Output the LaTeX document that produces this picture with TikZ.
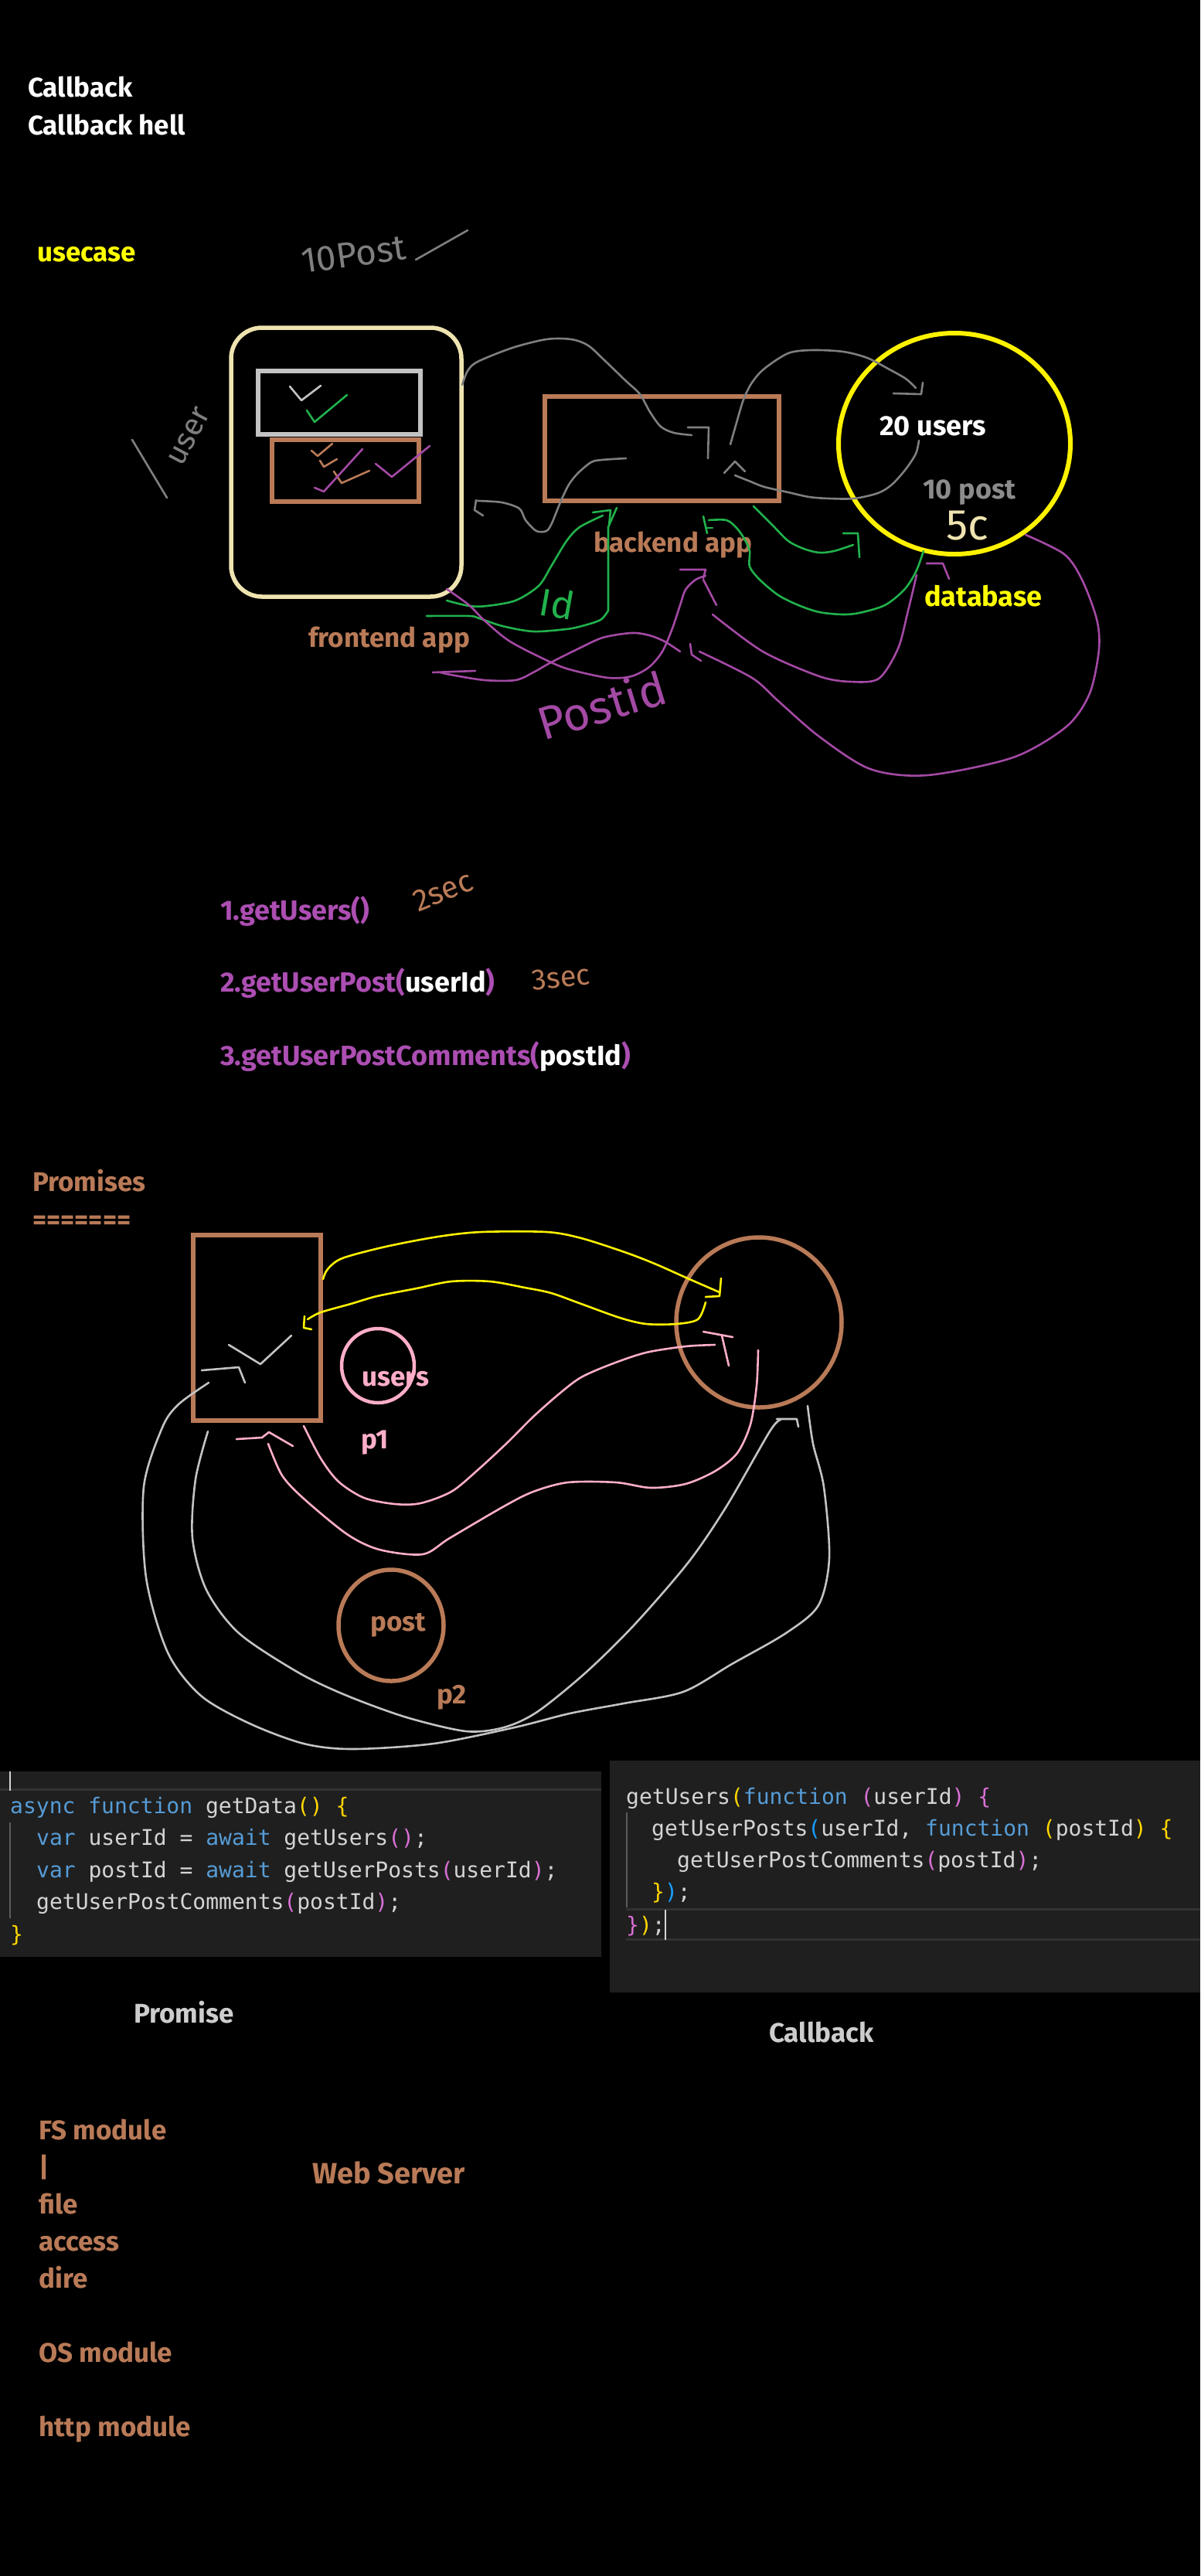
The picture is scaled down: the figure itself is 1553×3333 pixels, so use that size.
\documentclass[tikz,border=0pt]{standalone}
\usepackage{fontspec}
\setmainfont{Fira Sans}
\newfontfamily\codefnt{DejaVu Sans Mono}
\newcommand\lblfont{\fontsize{35}{42}\selectfont\bfseries}
\newcommand\handfnt[1]{\fontsize{#1}{#1}\selectfont}
\definecolor{pbrown}{RGB}{185,122,87}
\definecolor{pcream}{RGB}{239,228,176}
\definecolor{pyellow}{RGB}{255,242,0}
\definecolor{tyellow}{RGB}{255,255,0}
\definecolor{pgreen}{RGB}{34,177,76}
\definecolor{pgray}{RGB}{127,127,127}
\definecolor{plgray}{RGB}{195,195,195}
\definecolor{ppurple}{RGB}{163,73,164}
\definecolor{tpurple}{RGB}{172,78,178}
\definecolor{ppink}{RGB}{255,174,201}
\definecolor{tgray}{RGB}{140,140,140}
\definecolor{tlight}{RGB}{205,205,205}
\definecolor{codebg}{RGB}{31,31,31}
\definecolor{codefg}{RGB}{212,212,212}
\definecolor{codekw}{RGB}{86,156,214}
\definecolor{codey}{RGB}{255,215,0}
\definecolor{codep}{RGB}{218,112,214}
\definecolor{codeb}{RGB}{23,159,255}
\definecolor{hlline}{RGB}{50,50,50}
\tikzset{
  pen/.style={line width=2.6, line cap=round, line join=round},
  thick pen/.style={line width=5.5},
  lbl/.style={inner sep=0, anchor=base west, font=\lblfont},
  code/.style={inner sep=0, anchor=base west, font=\codefnt\fontsize{28}{34}\selectfont, text=codefg},
  hand/.style={inner sep=0},
}
\begin{document}
\begin{tikzpicture}[x=1pt,y=-1pt]
\fill[black] (0,0) rectangle (1553,3333);
\useasboundingbox (0,0) rectangle (1553,3333);

% ---------- headings ----------
\node[lbl, text=white] (cb) at (36,125) {Callback};
\node[lbl, text=white] (cbh) at (36,174) {Callback hell};
\node[lbl, text=tyellow] (uc) at (48,338) {usecase};
\node[hand, text=pgray, font=\handfnt{46}, rotate=8, anchor=base west] (tenpost) at (392,354) {10Post};
\draw[pen, pgray] (538,336) -- (605,298);

% ---------- use case diagram ----------
\draw[pcream, thick pen, rounded corners=40] (299,424) rectangle (597,772);
\draw[plgray, thick pen] (334,480) rectangle (544,562);
\draw[pbrown, thick pen] (352,569) rectangle (542,649);
\draw[pbrown, thick pen] (705,513) rectangle (1008,648);
\draw[pyellow, line width=6] (1235,574) ellipse [x radius=150, y radius=143];

\node[lbl, text=pbrown] (fe) at (399,837) {frontend app};
\node[lbl, text=pbrown] (be) at (768,714) {backend app};
\node[lbl, text=white, font=\fontsize{36}{40}\selectfont\bfseries] (u20) at (1138,563) {20 users};
\node[lbl, text=tgray, font=\fontsize{36}{40}\selectfont\bfseries] (p10) at (1194,645) {10 post};
\node[lbl, text=tyellow, font=\fontsize{36}{40}\selectfont\bfseries] (db) at (1196,784) {database};
\node[hand, text=pcream, font=\handfnt{56}] (fivec) at (1252,680) {5c};

% user label
\draw[pen, pgray] (171,569) -- (216,644);
\node[hand, text=pgray, font=\handfnt{40}, rotate=62] (usr) at (245,565) {user};

% checks
\draw[pen, plgray] (375,500) -- (390,518) -- (415,499);
\draw[pen, pgreen] (397,531) -- (407,546) -- (449,511);
\draw[pen, pbrown] (403,583) -- (411,590) -- (430,574);
\draw[pen, pbrown] (414,596) -- (419,604) -- (436,594);
\draw[pen, pbrown] (432,610) -- (442,625) -- (478,609);
\draw[pen, ppurple] (407,631) -- (419,636) -- (469,581);
\draw[pen, ppurple] (486,600) -- (507,617) -- (556,577);

% gray curves
\draw[pen, pgray] plot[smooth] coordinates {(598,498) (605,480) (618,468) (663,450) (707,439) (739,439) (761,447) (783,467) (810,493) (828,510) (841,533) (855,552) (872,560) (895,563)};
\draw[pen, pgray] (890,553) -- (917,553) -- (916,593);
\draw[pen, pgray] plot[smooth] coordinates {(945,575) (953,547) (962,517) (973,495) (989,477) (1020,457) (1051,453) (1091,455) (1122,463) (1149,477) (1172,490) (1185,502)};
\draw[pen, pgray] (1156,509) -- (1192,510) -- (1194,495);
\draw[pen, pgray] plot[smooth] coordinates {(1189,570) (1185,587) (1172,607) (1154,627) (1136,638) (1105,645) (1073,645) (1047,643) (1020,637) (989,630) (971,623) (951,615)};
\draw[pen, pgray] (937,612) -- (951,597) -- (964,610);
\draw[pen, pgray] plot[smooth] coordinates {(810,593) (779,595) (765,598) (748,612) (736,627) (725,650) (714,677) (707,687) (694,687) (680,673) (672,658) (649,650) (618,648)};
\draw[pen, pgray] (616,647) -- (614,660) -- (625,667);

% green curves
\draw[pen, pgreen] plot[smooth] coordinates {(578,777) (607,784) (630,784) (667,777) (697,758) (713,733) (733,700) (750,682) (780,667)};
\draw[pen, pgreen] (767,663) -- (790,660) -- (788,680);
\draw[pen, pgreen] (798,657) -- (787,682) -- (787,790);
\draw[pen, pgreen] plot[smooth] coordinates {(787,790) (777,802) (753,810) (733,814) (690,817) (650,810) (620,800) (607,797) (552,797)};
\node[hand, text=pgreen, font=\handfnt{50}, rotate=-10] (idl) at (721,781) {Id};
\draw[pen, pgreen] (910,668) -- (915,690);
\draw[pen, pgreen] (913,683) -- (922,683);
\draw[pen, pgreen] plot[smooth] coordinates {(917,673) (940,673) (953,683) (963,697) (970,713) (970,733) (983,750) (1007,770) (1033,783) (1060,792) (1090,795) (1112,793) (1145,783) (1170,763) (1185,740) (1195,713)};
\draw[pen, pgreen] plot[smooth] coordinates {(975,655) (1000,680) (1020,700) (1040,710) (1060,715) (1079,713) (1104,705)};
\draw[pen, pgreen] (1091,690) -- (1110,690) -- (1112,721);

% purple curves
\draw[pen, ppurple] plot[smooth] coordinates {(578,762) (607,783) (627,803) (660,830) (713,857) (740,867) (787,877) (817,875) (840,863) (857,843) (870,813) (880,783) (887,763) (900,750) (913,745)};
\draw[pen, ppurple] (880,737) -- (913,737) -- (910,748);
\draw[pen, ppurple] (910,750) -- (927,783);
\draw[pen, ppurple] (560,870) -- (615,868);
\draw[pen, ppurple] plot[smooth] coordinates {(570,870) (583,873) (627,880) (667,880) (690,870) (713,857) (747,840) (780,825) (817,819) (840,822) (860,830) (880,843)};
\draw[pen, ppurple] (893,833) -- (895,847) -- (907,855);
\draw[pen, ppurple] plot[smooth] coordinates {(905,843) (973,877) (1007,907) (1060,953) (1126,995) (1200,1003) (1311,980) (1380,940) (1410,897) (1422,840) (1419,801) (1400,750) (1377,717) (1327,692)};
\draw[pen, ppurple] plot[smooth] coordinates {(922,795) (987,843) (1060,875) (1100,882) (1137,878) (1162,839) (1175,790) (1186,744)};
\draw[pen, ppurple] (1199,729) -- (1220,729) -- (1228,749);
\node[hand, text=ppurple, font=\handfnt{60}, rotate=17] (postid) at (778,912) {Postid};

% ---------- numbered list ----------
\node[lbl, text=tpurple, font=\fontsize{36}{42}\selectfont\bfseries] (s1) at (285,1190) {1.getUsers()};
\node[lbl, text=tpurple, font=\fontsize{36}{42}\selectfont\bfseries] (s2) at (285,1283) {2.getUserPost(\textcolor{white}{userId})};
\node[lbl, text=tpurple, font=\fontsize{36}{42}\selectfont\bfseries] (s3) at (285,1378) {3.getUserPostComments(\textcolor{white}{postId})};
\node[hand, text=pbrown, font=\handfnt{40}, rotate=22] (sec2) at (573,1153) {2sec};
\node[hand, text=pbrown, font=\handfnt{38}, rotate=6] (sec3) at (726,1265) {3sec};

% ---------- promises ----------
\node[lbl, text=pbrown] (prm) at (42,1541) {Promises};
\node[lbl, text=pbrown] (eq) at (42,1590) {=======};
\draw[pbrown, thick pen] (250,1598) rectangle (415,1838);
\draw[pbrown, thick pen] (982,1711) ellipse [x radius=107, y radius=110];
\draw[ppink, line width=4.5] (489,1767) ellipse [x radius=47, y radius=48];
\node[lbl, text=ppink] (usersl) at (468,1793) {users};
\node[lbl, text=ppink] (p1) at (467,1874) {p1};
\draw[pbrown, thick pen] (506,2103) ellipse [x radius=68, y radius=72];
\node[lbl, text=pbrown] (postl) at (479,2110) {post};
\node[lbl, text=pbrown] (p2) at (565,2204) {p2};

\draw[pen, pyellow] plot[smooth] coordinates {(418,1655) (424,1642) (443,1628) (499,1613) (567,1600) (623,1594) (707,1594) (752,1602) (808,1620) (847,1635) (892,1655) (931,1672)};
\draw[pen, pyellow] (933,1654) -- (931,1677) -- (913,1678);
\draw[pen, pyellow] plot[smooth] coordinates {(913,1685) (903,1707) (875,1713) (836,1713) (802,1705) (752,1687) (713,1673) (679,1666) (634,1658) (584,1658) (539,1667) (488,1677) (454,1687) (415,1698) (398,1707)};
\draw[pen, pyellow] (394,1703) -- (393,1718) -- (403,1720);

\draw[pen, plgray] (296,1740) -- (337,1765) -- (377,1728);
\draw[pen, plgray] (261,1773) -- (309,1769) -- (317,1789);

\draw[pen, ppink] plot[smooth] coordinates {(925,1740) (887,1742) (836,1750) (791,1765) (752,1782) (724,1803) (690,1833) (656,1867) (617,1903) (584,1930) (544,1945) (511,1946) (471,1938) (438,1917) (415,1887) (393,1845)};
\draw[pen, ppink] (910,1723) -- (948,1730);
\draw[pen, ppink] (934,1728) -- (943,1767);
\draw[pen, ppink] plot[smooth] coordinates {(981,1747) (979,1793) (971,1843) (954,1880) (926,1903) (887,1920) (842,1925) (797,1918) (735,1918) (690,1930) (652,1949) (582,1990) (547,2011) (491,2005) (449,1985) (393,1939) (365,1909) (347,1868)};
\draw[pen, ppink] (306,1862) -- (339,1860) -- (348,1853) -- (379,1871);

\draw[pen, plgray] plot[smooth] coordinates {(270,1789) (231,1817) (210,1847) (186,1924) (189,2041) (217,2138) (260,2194) (323,2230) (393,2256) (456,2263) (561,2256) (666,2235) (737,2217) (807,2204) (884,2189) (947,2153) (1017,2113) (1059,2077) (1073,2016) (1066,1924) (1052,1868) (1045,1819)};
\draw[pen, plgray] plot[smooth] coordinates {(269,1852) (253,1914) (249,1990) (267,2057) (309,2113) (386,2164) (449,2194) (526,2222) (603,2240) (652,2235) (695,2215) (758,2164) (821,2102) (891,2021) (940,1949) (996,1852) (1010,1837)};
\draw[pen, plgray] (1005,1836) -- (1031,1836) -- (1033,1846);

% ---------- code blocks ----------
\fill[codebg] (0,2292) rectangle (778,2532);
\draw[hlline, line width=3] (0,2315.5) -- (778,2315.5);
\draw[codefg, line width=2] (13,2292) -- (13,2317);
\draw[hlline!80!white, line width=1.5] (13,2358) -- (13,2482);
\node[code] (a1) at (13,2346) {\textcolor{codekw}{async} \textcolor{codekw}{function} getData\textcolor{codey}{()} \textcolor{codey}{\{}};
\node[code] (a2) at (47,2387.5) {\textcolor{codekw}{var} userId = \textcolor{codekw}{await} getUsers\textcolor{codep}{()};};
\node[code] (a3) at (47,2429) {\textcolor{codekw}{var} postId = \textcolor{codekw}{await} getUserPosts\textcolor{codep}{(}userId\textcolor{codep}{)};};
\node[code] (a4) at (47,2470.5) {getUserPostComments\textcolor{codep}{(}postId\textcolor{codep}{)};};
\node[code] (a5) at (13,2512) {\textcolor{codey}{\}}};

\fill[codebg] (789,2278) rectangle (1553,2578);
\draw[hlline, line width=3] (810,2470) -- (1553,2470);
\draw[hlline, line width=3] (810,2509) -- (1553,2509);
\draw[hlline!80!white, line width=1.5] (811,2345) -- (811,2468);
\node[code] (b1) at (810,2334) {getUsers\textcolor{codey}{(}\textcolor{codekw}{function} \textcolor{codep}{(}userId\textcolor{codep}{)} \textcolor{codep}{\{}};
\node[code] (b2) at (843,2375) {getUserPosts\textcolor{codeb}{(}userId, \textcolor{codekw}{function} \textcolor{codey}{(}postId\textcolor{codey}{)} \textcolor{codey}{\{}};
\node[code] (b3) at (876,2416) {getUserPostComments\textcolor{codep}{(}postId\textcolor{codep}{)};};
\node[code] (b4) at (843,2457) {\textcolor{codey}{\}}\textcolor{codeb}{)};};
\node[code] (b5) at (810,2500) {\textcolor{codep}{\}}\textcolor{codey}{)};};
\draw[codefg, line width=2] (861,2471) -- (861,2510);

\node[lbl, text=tlight] (prl) at (173,2617) {Promise};
\node[lbl, text=tlight] (cbl) at (995,2642) {Callback};

% ---------- modules ----------
\node[lbl, text=pbrown] (fs) at (50,2768) {FS module};
\node[lbl, text=pbrown] (bar) at (50,2816) {|};
\node[lbl, text=pbrown] (file) at (50,2864) {file};
\node[lbl, text=pbrown] (acc) at (50,2912) {access};
\node[lbl, text=pbrown] (dire) at (50,2960) {dire};
\node[lbl, text=pbrown] (os) at (50,3056) {OS module};
\node[lbl, text=pbrown] (http) at (50,3152) {http module};
\node[lbl, text=pbrown, font=\fontsize{38}{42}\selectfont\bfseries] (web) at (404,2825) {Web Server};
\end{tikzpicture}
\end{document}
